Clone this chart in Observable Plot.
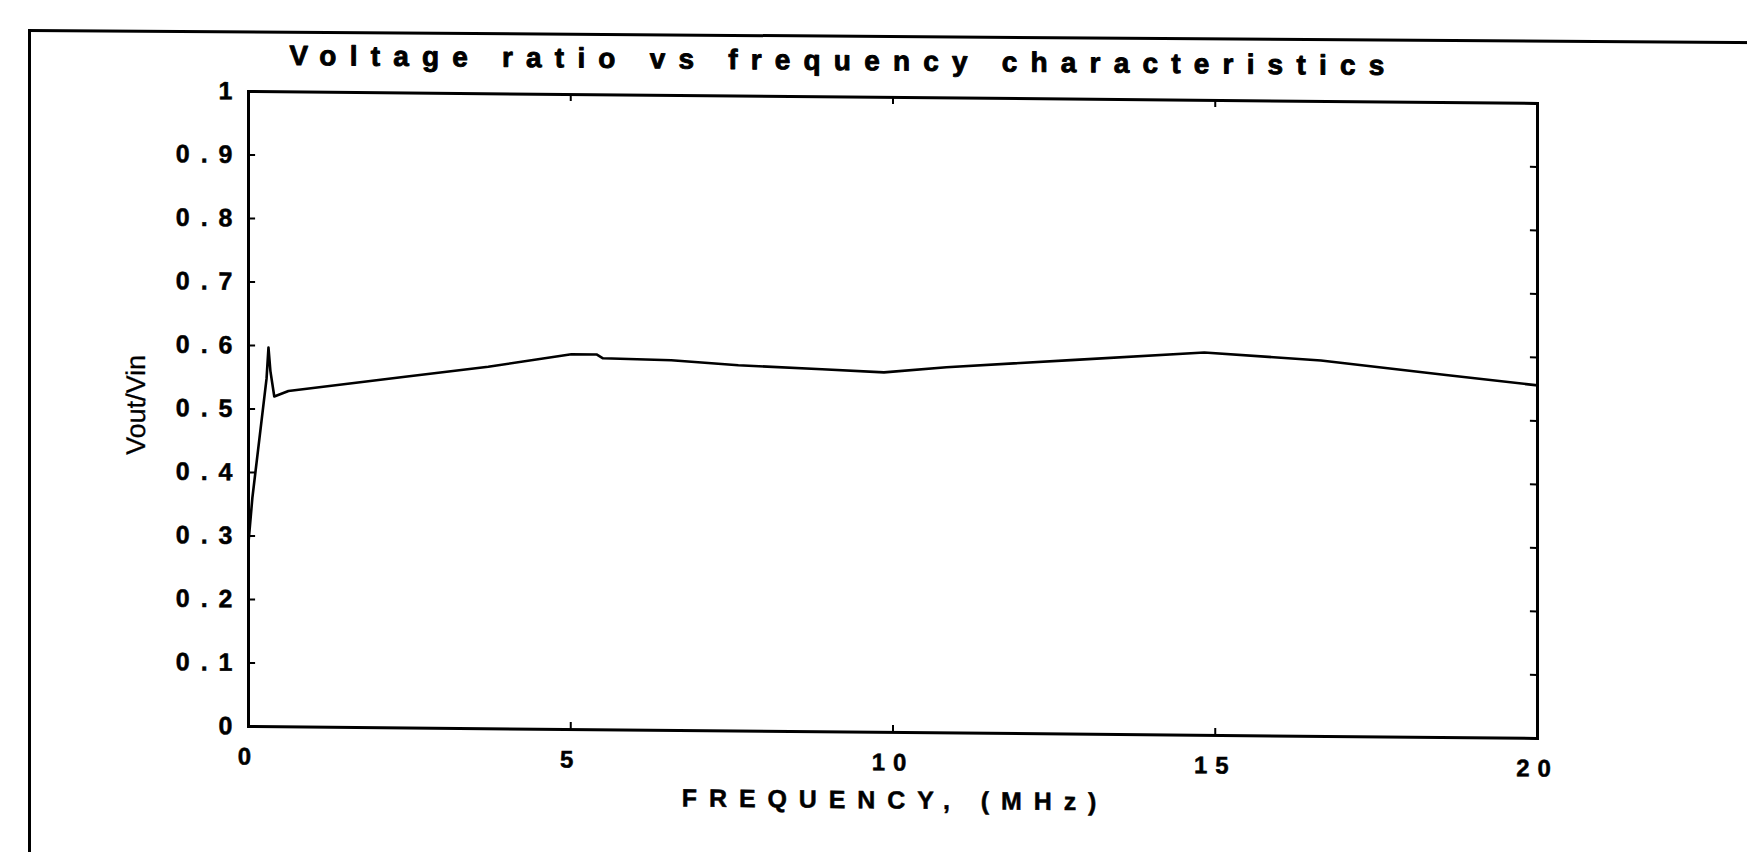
<!DOCTYPE html>
<html>
<head>
<meta charset="utf-8">
<script src="https://cdn.jsdelivr.net/npm/d3@7"></script>
<script src="https://cdn.jsdelivr.net/npm/@observablehq/plot@0.6"></script>
<style>
  html, body { margin: 0; padding: 0; background: #fff; width: 1747px; height: 852px; overflow: hidden; }
  #chart { position: absolute; left: 0; top: 0; z-index: 1; }
  #chart svg { transform: skewY(0.53deg); transform-origin: 248px 91px; }
  #outer { position: absolute; left: 28px; top: 29px; width: 1740px; height: 840px; z-index: 2;
           border-top: 3px solid #000; border-left: 3px solid #000; pointer-events: none;
           transform: skewY(0.4deg); transform-origin: 0 0; }
  g[aria-label="y-axis tick label"] { letter-spacing: 11px; }
  g[aria-label="x-axis tick label"] { letter-spacing: 8px; }
  g[aria-label="y-axis tick label"] text, g[aria-label="x-axis tick label"] text { stroke: #000; stroke-width: 0.5px; }
</style>
</head>
<body>
<div id="chart"></div>
<div id="outer"></div>
<script>
// ---- data ----
const titleText = "Voltage ratio vs frequency characteristics";
const xLabelText = "FREQUENCY, (MHz)";
const yLabelText = "Vout/Vin";

const freqMHz = [0, 0.06, 0.28, 0.31, 0.34, 0.40, 0.62, 2.43, 3.72, 5.01, 5.40, 5.50, 6.56, 7.60, 8.90, 9.86, 10.83, 12.76, 14.83, 16.64, 18.58, 20];
const voltRatio = [0.29, 0.36, 0.548, 0.597, 0.56, 0.52, 0.529, 0.553, 0.570, 0.591, 0.591, 0.585, 0.583, 0.576, 0.571, 0.567, 0.576, 0.589, 0.603, 0.592, 0.571, 0.556];

const xTicks = [0, 5, 10, 15, 20];
const xTickLabels = ["0", "5", "10", "15", "20"];
const yTicks = [0, 0.1, 0.2, 0.3, 0.4, 0.5, 0.6, 0.7, 0.8, 0.9, 1];
const yTickLabels = ["0", "0.1", "0.2", "0.3", "0.4", "0.5", "0.6", "0.7", "0.8", "0.9", "1"];

// ---- build ----
const series = freqMHz.map((f, i) => ({f, v: voltRatio[i]}));
const xLab = new Map(xTicks.map((t, i) => [t, xTickLabels[i]]));
const yLab = new Map(yTicks.map((t, i) => [t, yTickLabels[i]]));

const chart = Plot.plot({
  width: 1747,
  height: 852,
  marginLeft: 248,
  marginRight: 210,
  marginTop: 91,
  marginBottom: 126,
  style: {fontFamily: "'Liberation Sans', Arial, sans-serif", fontSize: "25px", background: "transparent", color: "#000", overflow: "visible"},
  x: {domain: [0, 20], axis: null},
  y: {domain: [0, 1], axis: null},
  marks: [
    Plot.axisX(xTicks, {anchor: "bottom", tickSize: 0, tickPadding: 21, tickFormat: d => xLab.get(d), fontSize: 24, fontWeight: "bold", label: null}),
    Plot.axisY(yTicks, {anchor: "left", tickSize: 0, tickPadding: 5, tickFormat: d => yLab.get(d), fontSize: 25, fontWeight: "bold", label: null}),
    // inward tick marks on all four sides
    Plot.ruleY(yTicks, {x1: 0, x2: 0.11, strokeWidth: 2, stroke: "#000"}),
    Plot.ruleY(yTicks, {x1: 19.89, x2: 20, strokeWidth: 2, stroke: "#000"}),
    Plot.ruleX(xTicks, {y1: 0, y2: 0.011, strokeWidth: 2, stroke: "#000"}),
    Plot.ruleX(xTicks, {y1: 0.989, y2: 1, strokeWidth: 2, stroke: "#000"}),
    Plot.frame({stroke: "#000", strokeWidth: 3}),
    Plot.line(series, {x: "f", y: "v", stroke: "#000", strokeWidth: 2.6}),
    Plot.text([titleText], {text: d => d, frameAnchor: "top", textAnchor: "middle", lineAnchor: "bottom", dy: -27, dx: -49.5, fontSize: 28, fontWeight: "bold", fill: "#000", stroke: "#000", strokeWidth: 0.9}),
    Plot.text([xLabelText], {text: d => d, frameAnchor: "bottom", textAnchor: "middle", lineAnchor: "middle", dy: 68, dx: 2, fontSize: 25, fontWeight: "bold", fill: "#000", stroke: "#000", strokeWidth: 0.5}),
    Plot.text([yLabelText], {text: d => d, frameAnchor: "left", textAnchor: "middle", lineAnchor: "middle", rotate: -90, dx: -112, dy: -3, fontSize: 27, fill: "#000", stroke: "#000", strokeWidth: 0.3})
  ]
});
document.getElementById("chart").appendChild(chart);

// wide letter spacing of the scanned original
const spacing = new Map([[titleText, "13.2px"], [xLabelText, "11.9px"]]);
d3.select(chart).selectAll("text")
  .filter(function() { return spacing.has(this.textContent); })
  .style("letter-spacing", function() { return spacing.get(this.textContent); });
</script>
</body>
</html>
